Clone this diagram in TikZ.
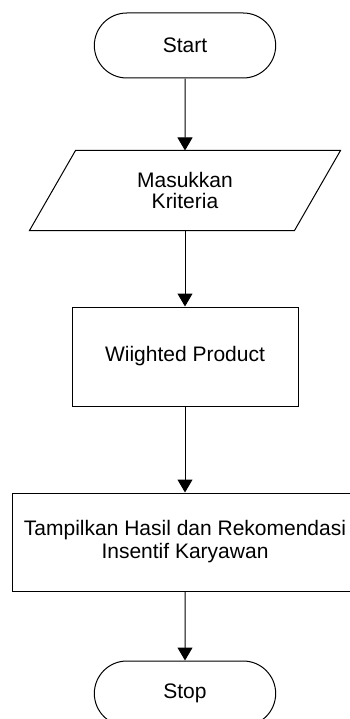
\documentclass[tikz,border=0pt]{standalone}
\usepackage{fontspec}
\setmainfont{Liberation Sans}
\usepackage{tikz}
\usetikzlibrary{shapes.misc, arrows.meta, positioning}

\begin{document}
\begin{tikzpicture}[
    x=1pt, y=1pt,
    terminal/.style={draw, rounded rectangle, minimum width=188pt,
      minimum height=65pt, align=center, font=\fontsize{21}{24}\selectfont},
    iobox/.style={rectangle, minimum width=264pt, minimum height=79pt,
      inner sep=0pt, align=center, font=\fontsize{21}{21}\selectfont},
    procbox/.style={draw, rectangle, minimum width=226pt, minimum height=99pt,
      align=center, font=\fontsize{21}{23}\selectfont},
    arrow/.style={line width=1pt, -{Triangle[length=13pt, width=15pt]}},
    every node/.append style={line width=1pt}
]
\useasboundingbox (0,0) rectangle (349,-719);
\node[terminal] (start) at (185,-45.5) {Start};
\node[iobox, below=72pt of start] (input) {Masukkan\\Kriteria};
\node[procbox, below=76pt of input] (wp) {Wiighted Product};
\node[procbox, minimum width=346pt, minimum height=98pt, below=86pt of wp] (output)
  {Tampilkan Hasil dan Rekomendasi\\Insentif Karyawan};
\node[terminal, below=69pt of output] (stop) {Stop};

% parallelogram border of the input node
\draw[line width=1pt] ([xshift=23pt]input.north west) -- ([xshift=23pt]input.north east)
  -- ([xshift=-23pt]input.south east) -- ([xshift=-23pt]input.south west) -- cycle;

\draw[arrow] (start) -- (input);
\draw[arrow] (input) -- (wp);
\draw[arrow] (wp) -- (output);
\draw[arrow] (output) -- (stop);
\end{tikzpicture}
\end{document}
